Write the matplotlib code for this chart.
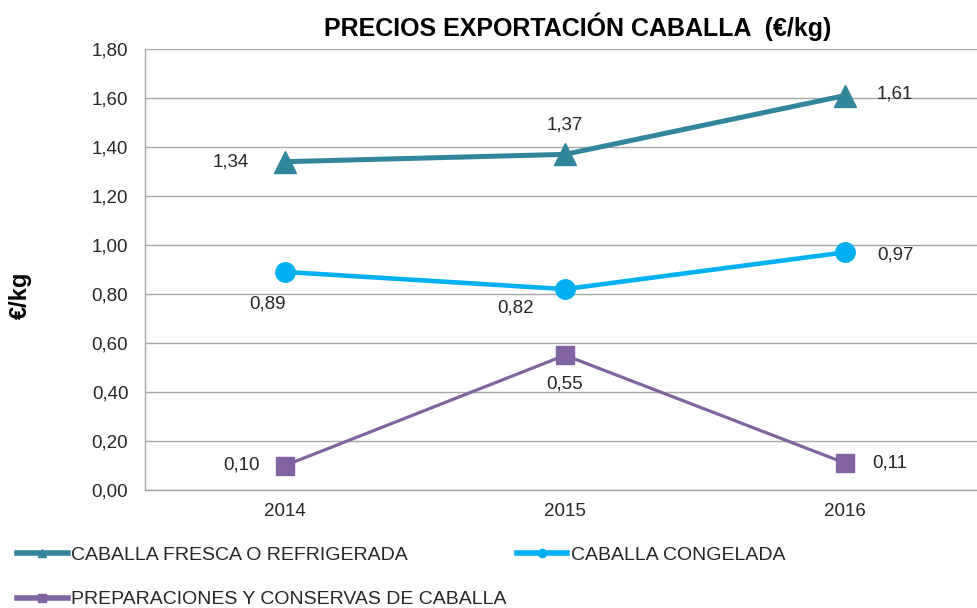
import matplotlib as mpl

mpl.use("Agg")
import matplotlib.pyplot as plt
from matplotlib.lines import Line2D
from matplotlib.ticker import FuncFormatter, MultipleLocator

plt.rcParams["font.family"] = ["Liberation Sans", "DejaVu Sans"]

years = ["2014", "2015", "2016"]
fresca = [1.34, 1.37, 1.61]
congelada = [0.89, 0.82, 0.97]
conservas = [0.10, 0.55, 0.11]

series_names = [
    "CABALLA FRESCA O REFRIGERADA",
    "CABALLA CONGELADA",
    "PREPARACIONES Y CONSERVAS DE CABALLA",
]

TEAL = "#31859C"
BLUE = "#00B0F0"
PURPLE = "#8064A2"
TEXT = "#262626"
GRID = "#A6A6A6"

W, H = 977, 608
fig = plt.figure(figsize=(W / 100, H / 100), dpi=100)
ax = fig.add_axes([145 / W, 1 - 490 / H, 840 / W, 441 / H])

x = list(range(len(years)))
ax.plot(x, fresca, color=TEAL, lw=3.6, marker="^", ms=16, zorder=3)
ax.plot(x, congelada, color=BLUE, lw=3.3, marker="o", ms=14, zorder=3)
ax.plot(x, conservas, color=PURPLE, lw=2.3, marker="s", ms=12.5, zorder=3)

# data label offsets in pixels, per point
label_offsets = {
    "fresca": [(-54, 0), (0, 29), (50, 2)],
    "congelada": [(-18, -32), (-49, -19), (50, -3)],
    "conservas": [(-43, 0), (0, -29), (45, 0)],
}
for key, vals in (("fresca", fresca), ("congelada", congelada), ("conservas", conservas)):
    for xi, v, off in zip(x, vals, label_offsets[key]):
        ax.annotate(f"{v:.2f}".replace(".", ","), (xi, v), xytext=off,
                    textcoords="offset pixels", ha="center", va="center",
                    fontsize=13.5, color=TEXT)

ax.set_xlim(-0.5, 2.5)
ax.set_ylim(0, 1.8)
ax.set_xticks(x)
ax.set_xticklabels(years)
ax.yaxis.set_major_locator(MultipleLocator(0.2))
ax.yaxis.set_major_formatter(FuncFormatter(lambda v, p: f"{v:.2f}".replace(".", ",")))
ax.tick_params(axis="both", length=0, labelsize=13.5, labelcolor=TEXT)
ax.tick_params(axis="y", pad=12)
ax.tick_params(axis="x", pad=9)
ax.grid(axis="y", color=GRID, lw=1)
ax.set_axisbelow(True)
for side in ("top", "right"):
    ax.spines[side].set_visible(False)
for side in ("left", "bottom"):
    ax.spines[side].set_color(GRID)
    ax.spines[side].set_linewidth(1)

fig.text(578 / W, 1 - 27 / H, "PRECIOS EXPORTACIÓN CABALLA  (€/kg)",
         ha="center", va="center", fontsize=18, fontweight="bold", color="black")
fig.text(20 / W, 1 - 295 / H, "€/kg", rotation=90, ha="center", va="center",
         fontsize=17, fontweight="bold", color="black")

handles = [
    Line2D([], [], color=TEAL, lw=4, marker="^", ms=6),
    Line2D([], [], color=PURPLE, lw=4, marker="s", ms=6),
    Line2D([], [], color=BLUE, lw=4, marker="o", ms=6),
]
labels = [series_names[0], series_names[2], series_names[1]]
fig.legend(handles, labels, loc="upper left", bbox_to_anchor=(17 / W, 1 - 546 / H),
           ncol=2, frameon=False, fontsize=14, borderpad=0, borderaxespad=0,
           handlelength=2.6, handletextpad=0.2, labelspacing=1.4, columnspacing=0.5,
           labelcolor=TEXT)

fig.savefig("out.png", dpi=100)
